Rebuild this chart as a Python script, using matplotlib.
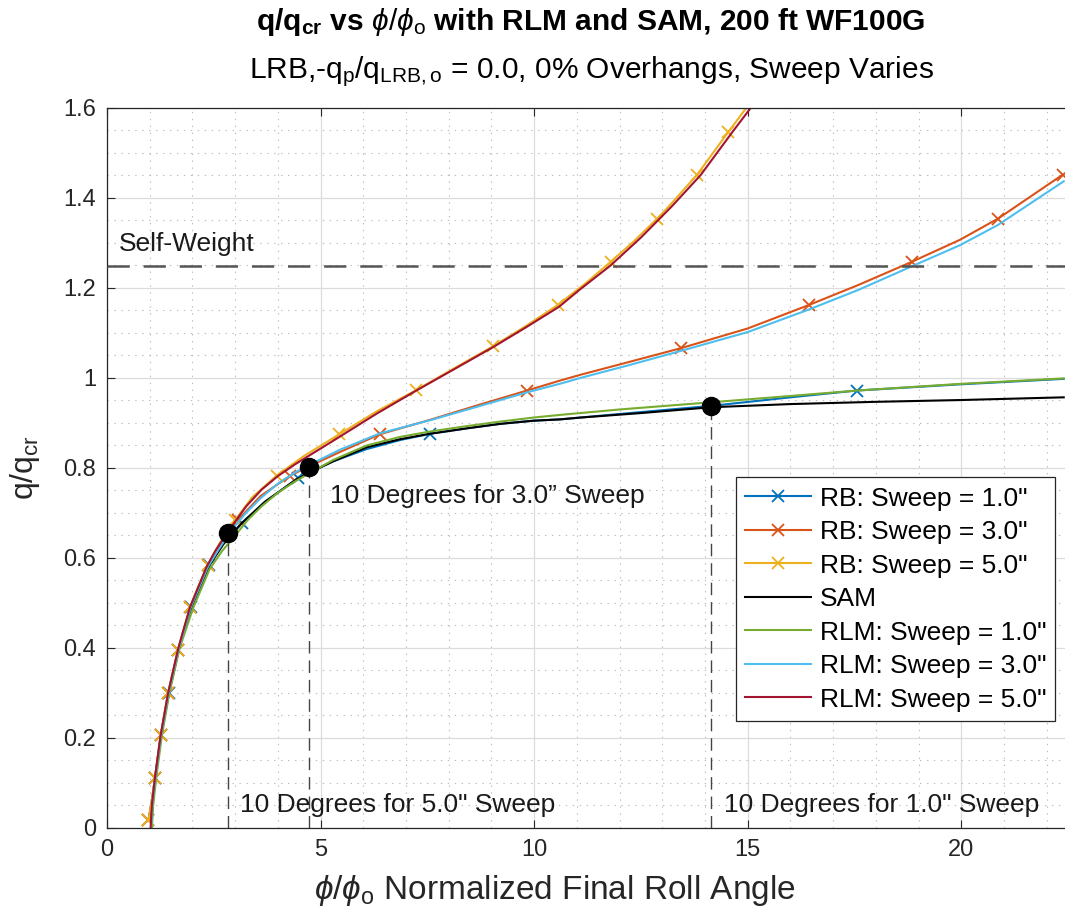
import matplotlib
matplotlib.use("Agg")
import matplotlib.pyplot as plt
from matplotlib.ticker import MultipleLocator, FormatStrFormatter

plt.rcParams['font.family'] = ['Liberation Sans', 'DejaVu Sans']
plt.rcParams['mathtext.fontset'] = 'custom'
plt.rcParams['mathtext.rm'] = 'Liberation Sans'
plt.rcParams['mathtext.it'] = 'Liberation Sans:italic'
plt.rcParams['mathtext.bf'] = 'Liberation Sans:bold'
plt.rcParams['lines.scale_dashes'] = False

# ---- data ----
# RB, sweep 1.0"
rb1_x = [0.97, 1.05, 1.12, 1.26, 1.44, 1.67, 1.96, 2.15, 2.38, 2.70, 3.15, 3.70, 4.46,
         5.30, 6.08, 6.86, 7.56, 8.42, 9.20, 9.98, 10.61, 12.0, 14.15, 16.0, 17.55, 20.0, 22.4]
rb1_y = [0.018, 0.06, 0.11, 0.207, 0.30, 0.395, 0.49, 0.535, 0.584, 0.630, 0.677, 0.725, 0.777,
         0.815, 0.842, 0.862, 0.876, 0.888, 0.898, 0.905, 0.908, 0.920, 0.938, 0.957, 0.972, 0.986, 0.998]
rb1_marks = [0, 2, 3, 4, 5, 6, 8, 10, 12, 16, 24]

# RB, sweep 3.0"
rb3_x = [0.97, 1.05, 1.12, 1.26, 1.43, 1.66, 1.95, 2.14, 2.37, 2.65, 3.06, 3.60, 4.29,
         4.74, 5.10, 5.44, 6.39, 7.60, 8.70, 9.83, 10.6, 11.08, 12.2, 13.43, 15.0, 16.43,
         17.6, 18.84, 19.97, 20.86, 22.38]
rb3_y = [0.018, 0.06, 0.11, 0.207, 0.30, 0.395, 0.49, 0.535, 0.584, 0.63, 0.684, 0.738, 0.783,
         0.804, 0.820, 0.835, 0.875, 0.908, 0.940, 0.972, 0.994, 1.007, 1.035, 1.066, 1.110, 1.162,
         1.207, 1.258, 1.307, 1.354, 1.452]
rb3_marks = [0, 2, 3, 4, 5, 6, 8, 10, 12, 16, 19, 23, 25, 27, 29, 30]

# RB, sweep 5.0"
rb5_x = [0.97, 1.05, 1.12, 1.26, 1.43, 1.66, 1.94, 2.13, 2.36, 2.62, 3.00, 3.40, 3.97,
         4.60, 5.44, 6.30, 7.24, 8.10, 9.03, 9.80, 10.55, 11.20, 11.79, 12.35, 12.88, 13.15,
         13.81, 14.55, 14.99]
rb5_y = [0.018, 0.06, 0.11, 0.207, 0.30, 0.395, 0.49, 0.535, 0.584, 0.63, 0.684, 0.735, 0.783,
         0.826, 0.875, 0.925, 0.973, 1.020, 1.070, 1.115, 1.162, 1.210, 1.258, 1.305, 1.354, 1.381,
         1.451, 1.547, 1.603]
rb5_marks = [0, 2, 3, 4, 5, 6, 8, 10, 12, 14, 16, 18, 20, 22, 24, 26, 27]

# SAM
sam_x = [1.03, 1.06, 1.13, 1.27, 1.45, 1.69, 1.98, 2.40, 2.72, 3.15, 3.70, 4.44, 4.90,
         5.30, 6.08, 6.86, 7.56, 8.42, 9.20, 9.98, 10.61, 11.08, 12.5, 14.15, 16.0, 18.0, 20.0, 22.4]
sam_y = [0.0, 0.05, 0.11, 0.207, 0.30, 0.40, 0.49, 0.584, 0.630, 0.677, 0.725, 0.775, 0.797,
         0.815, 0.846, 0.864, 0.876, 0.888, 0.898, 0.905, 0.908, 0.912, 0.922, 0.935, 0.942, 0.947, 0.951, 0.957]

# RLM, sweep 1.0"
rlm1_x = [1.05, 1.08, 1.15, 1.28, 1.46, 1.70, 2.02, 2.40, 2.69, 3.00, 3.30, 3.62, 4.00, 4.40,
          4.90, 5.30, 6.08, 6.86, 7.56, 8.42, 9.20, 9.98, 10.61, 12.0, 14.15, 16.0, 17.55, 20.0, 22.4]
rlm1_y = [0.0, 0.05, 0.11, 0.203, 0.30, 0.40, 0.49, 0.575, 0.615, 0.650, 0.685, 0.715, 0.745, 0.770,
          0.797, 0.818, 0.850, 0.869, 0.881, 0.893, 0.903, 0.912, 0.918, 0.930, 0.946, 0.960, 0.972,
          0.987, 0.999]

# RLM, sweep 3.0"
rlm3_x = [1.03, 1.06, 1.13, 1.26, 1.44, 1.68, 1.96, 2.36, 2.62, 2.90, 3.25, 3.62, 4.00, 4.40,
          4.74, 5.10, 5.44, 6.39, 7.60, 8.70, 9.83, 10.6, 11.08, 12.2, 13.43, 15.0, 16.43, 17.6,
          18.84, 19.97, 20.86, 22.4]
rlm3_y = [0.0, 0.05, 0.11, 0.203, 0.30, 0.40, 0.49, 0.58, 0.62, 0.66, 0.700, 0.735, 0.765, 0.790,
          0.807, 0.824, 0.840, 0.877, 0.907, 0.937, 0.968, 0.987, 1.000, 1.028, 1.060, 1.102, 1.152,
          1.196, 1.248, 1.295, 1.340, 1.437]

# RLM, sweep 5.0"
rlm5_x = [1.02, 1.05, 1.12, 1.25, 1.43, 1.67, 1.94, 2.33, 2.53, 2.84, 3.26, 3.62, 4.00,
          4.40, 4.74, 5.10, 5.44, 6.30, 7.24, 8.10, 9.03, 9.80, 10.58, 11.05, 11.79, 12.50,
          13.22, 13.90, 14.63, 15.07]
rlm5_y = [0.0, 0.05, 0.11, 0.203, 0.30, 0.40, 0.49, 0.58, 0.615, 0.660, 0.715, 0.752, 0.782,
          0.808, 0.828, 0.849, 0.869, 0.920, 0.972, 1.018, 1.068, 1.112, 1.158, 1.195, 1.250, 1.312,
          1.381, 1.451, 1.545, 1.600]

# 10-degree points (x, y) for 5.0", 3.0", 1.0" sweep
deg10_x = [2.84, 4.74, 14.15]
deg10_y = [0.655, 0.803, 0.938]
deg10_labels = ['10 Degrees for 5.0" Sweep', '10 Degrees for 3.0\u201d Sweep',
                '10 Degrees for 1.0" Sweep']

self_weight = 1.248

# ---- figure ----
fig = plt.figure(figsize=(10.65, 9.15), dpi=100)
ax = fig.add_axes([0.1005, 0.0951, 0.8995, 0.7869])

c_blue = '#0072BD'
c_orange = '#D95319'
c_yellow = '#EDB120'
c_green = '#77AC30'
c_lblue = '#4DBEEE'
c_red = '#A2142F'

mk = dict(marker='x', markersize=9, markeredgewidth=1.3)
ax.plot(rb1_x, rb1_y, color=c_blue, lw=1.5, markevery=rb1_marks, label='RB: Sweep = 1.0"', **mk)
ax.plot(rb3_x, rb3_y, color=c_orange, lw=1.5, markevery=rb3_marks, label='RB: Sweep = 3.0"', **mk)
ax.plot(rb5_x, rb5_y, color=c_yellow, lw=1.5, markevery=rb5_marks, label='RB: Sweep = 5.0"', **mk)
ax.plot(sam_x, sam_y, color='black', lw=1.5, label='SAM')
ax.plot(rlm1_x, rlm1_y, color=c_green, lw=1.5, label='RLM: Sweep = 1.0"')
ax.plot(rlm3_x, rlm3_y, color=c_lblue, lw=1.5, label='RLM: Sweep = 3.0"')
ax.plot(rlm5_x, rlm5_y, color=c_red, lw=1.5, label='RLM: Sweep = 5.0"')

# self weight line
ax.axhline(self_weight, color='#555555', lw=1.8, dashes=(16, 10), zorder=3)
ax.text(0.27, self_weight + 0.05, 'Self-Weight', fontsize=19, color='#1a1a1a', va='center')

# 10 degree markers and guide lines
for xv, yv in zip(deg10_x, deg10_y):
    ax.plot([xv, xv], [0, yv], color='#444444', lw=1.0, dashes=(9, 5), zorder=2)
ax.plot(deg10_x, deg10_y, 'o', color='black', markersize=13, zorder=6)

ax.text(3.12, 0.05, deg10_labels[0], fontsize=19, color='#1a1a1a', va='center')
ax.text(5.22, 0.737, deg10_labels[1], fontsize=19, color='#1a1a1a', va='center')
ax.text(14.45, 0.05, deg10_labels[2], fontsize=19, color='#1a1a1a', va='center')

ax.set_xlim(0, 22.43)
ax.set_ylim(0, 1.6)
ax.xaxis.set_major_locator(MultipleLocator(5))
ax.xaxis.set_minor_locator(MultipleLocator(1))
ax.yaxis.set_major_locator(MultipleLocator(0.2))
ax.yaxis.set_minor_locator(MultipleLocator(0.05))
ax.yaxis.set_major_formatter(FormatStrFormatter('%g'))

ax.grid(which='major', color='#dcdcdc', lw=0.9)
ax.grid(which='minor', color='#bdbdbd', lw=0.8, linestyle=(0, (1, 4)))
ax.set_axisbelow(True)

ax.tick_params(which='major', direction='in', length=6, width=0.8, top=True, right=False,
               labelsize=17, colors='#262626', pad=8)
ax.tick_params(which='minor', length=0)
for side in ['left', 'bottom', 'top']:
    ax.spines[side].set_color('#262626')
    ax.spines[side].set_linewidth(0.9)
ax.spines['right'].set_visible(False)

ax.set_xlabel(r'$\phi/\phi_{\mathrm{o}}$ Normalized Final Roll Angle', fontsize=24, color='#262626')
ax.set_ylabel(r'q/q$_{\mathrm{cr}}$', fontsize=23, color='#262626')
ax.xaxis.set_label_coords(0.468, -0.063)
ax.yaxis.set_label_coords(-0.068, 0.5)

fig.text(0.555, 1 - 22 / 915, r'q/q$_{\mathbf{cr}}$ vs $\phi/\phi_{\mathrm{o}}$ with RLM and SAM, 200 ft WF100G',
         fontsize=21.5, fontweight='bold', ha='center', va='center', color='black')
fig.text(0.555, 1 - 72 / 915, r'LRB,-q$_{\mathrm{p}}$/q$_{\mathrm{LRB,o}}$ = 0.0, 0% Overhangs, Sweep Varies',
         fontsize=21.5, ha='center', va='center', color='black')

leg = ax.legend(loc='upper left', bbox_to_anchor=(0.6566, 0.487), fontsize=19, frameon=True,
                fancybox=False, framealpha=1, edgecolor='#262626', handlelength=2.5,
                handletextpad=0.32, labelspacing=0.36, borderpad=0.35, borderaxespad=0)
leg.get_frame().set_linewidth(0.9)
leg.set_zorder(10)

fig.savefig('out.png', dpi=100)
